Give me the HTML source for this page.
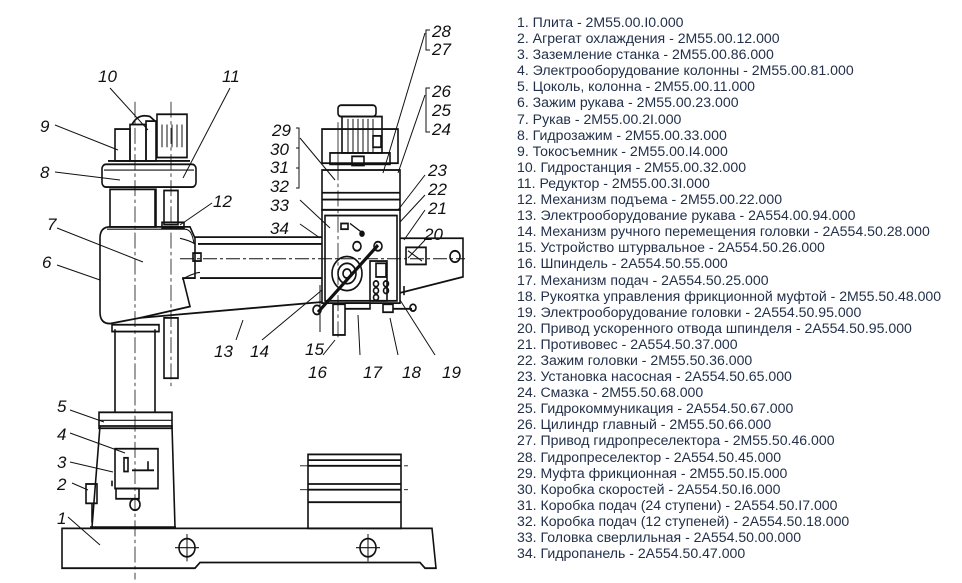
<!DOCTYPE html>
<html><head><meta charset="utf-8"><style>
html,body{margin:0;padding:0;background:#fff;}
body{width:962px;height:583px;position:relative;overflow:hidden;}
#list{position:absolute;left:517px;top:14px;font-family:"Liberation Sans",sans-serif;font-size:14.1px;line-height:16.1px;color:#22304a;white-space:nowrap;}
svg{position:absolute;left:0;top:0;}
svg text{font-family:"Liberation Sans",sans-serif;font-style:italic;font-size:17px;fill:#111;}
</style></head><body>
<svg width="500" height="583" viewBox="0 0 500 583" fill="none" stroke="#111" stroke-width="1.6">
<g transform="matrix(1,0,0,1.1376,0,-12)">
<path d="M62 475 L432 475 L436 510 L425 510 L420 505 L200 505 L195 510 L62 510 Z"/>
<circle cx="187" cy="492" r="8"/><path d="M175 492H199M187 480V504" stroke-width="1"/>
<circle cx="368" cy="492" r="8"/><path d="M356 492H380M368 480V504" stroke-width="1"/>
<path d="M92 474 L100 385 L172 385 L175 474"/>
<path d="M90 474 H176"/>
<rect x="99" y="373" width="73" height="14"/>
<path d="M99 380 H172" stroke-width="1"/>
<rect x="115" y="405" width="43" height="35"/>
<rect x="116" y="440" width="23" height="9"/>
<rect x="124" y="413" width="4" height="12"/><path d="M132 424 H154 M148 416 V424"/>
<circle cx="135" cy="454" r="5"/>
<rect x="86" y="436" width="11" height="17"/>
<path d="M92 453 V470 M112 433 L112 438"/>
<path d="M115 373 V300 M155 373 V300"/>
<rect x="112" y="296" width="47" height="6"/>
<path d="M135 100 V520" stroke-width="0.8" stroke-dasharray="14 3 3 3"/>
<path d="M110 210 L190 210 L195 220 L195 255 L183 255 L190 280 L140 290 L110 295 Q100 295 100 285 L100 220 Q100 210 110 210Z"/>
<path d="M107 212 H185 Q192 212 194 225" stroke-width="1"/>
<rect x="110" y="177" width="46" height="33"/>
<path d="M155 177 V210"/>
<rect x="164" y="178" width="14" height="30"/>
<rect x="162" y="206" width="22" height="5"/>
<rect x="164" y="290" width="14" height="53"/>
<path d="M171 100 V350" stroke-width="0.8" stroke-dasharray="14 3 3 3"/>
<rect x="102" y="155" width="94" height="20" rx="4"/>
<path d="M104 160 H194" stroke-width="1"/>
<rect x="115" y="124" width="15" height="28"/>
<rect x="130" y="120" width="16" height="32"/>
<path d="M132 120 Q138 110 150 113 L155 117"/>
<rect x="146" y="117" width="10" height="35"/>
<rect x="157" y="111" width="30" height="38"/>
<path d="M162 120 V140 M167 120 V140 M172 120 V140 M177 120 V140 M182 120 V140" stroke-width="1"/>
<path d="M108 152 H190"/>
<path d="M195 219 H322 M198 225 H322 M200 255 H322 M140 290 L322 276"/>
<path d="M180 220 Q190 222 195 225 M182 256 Q195 250 200 250" stroke-width="1"/>
<rect x="193" y="233" width="8" height="7"/>
<path d="M180 238 H465" stroke-width="0.8" stroke-dasharray="14 3 3 3"/>
<path d="M400 220 H463 V254 L400 268"/>
<path d="M404 262 V270"/>
<circle cx="455" cy="236" r="5"/>
<rect x="406" y="228" width="20" height="15"/>
<path d="M408 231 L422 240" stroke-width="1"/>
<rect x="322" y="160" width="78" height="35"/>
<path d="M322 180 H400 M322 186 H400"/>
<rect x="322" y="195" width="78" height="82"/>
<rect x="325" y="200" width="72" height="75"/>
<rect x="341" y="207" width="7" height="5"/>
<circle cx="357" cy="227" r="4"/>
<path d="M350 207 L362 215" stroke-width="1.2"/>
<circle cx="362" cy="216" r="2" fill="#111"/>
<circle cx="347" cy="251" r="15"/><circle cx="347" cy="251" r="9"/><circle cx="347" cy="251" r="4"/>
<path d="M318 285 L378 226" stroke-width="3"/>
<circle cx="317" cy="283" r="4"/><circle cx="378" cy="227" r="4"/>
<rect x="370" y="240" width="17" height="35"/>
<rect x="376" y="242" width="10" height="12"/>
<circle cx="376" cy="260" r="2.5"/><circle cx="376" cy="266" r="2.5"/><circle cx="376" cy="272" r="2.5"/>
<circle cx="386" cy="260" r="2.5"/><circle cx="386" cy="266" r="2.5"/>
<rect x="333" y="278" width="12" height="27"/>
<path d="M345 277 H370 V282 H345"/>
<rect x="383" y="278" width="10" height="7"/>
<path d="M393 282 L412 282"/><circle cx="413" cy="281" r="3"/>
<rect x="322" y="124" width="76" height="30"/>
<rect x="330" y="145" width="60" height="10"/>
<rect x="338" y="103" width="38" height="10" rx="3"/>
<rect x="342" y="113" width="40" height="32"/>
<path d="M348 115 V145 M353 115 V145 M358 115 V145 M363 115 V145 M368 115 V145 M373 115 V145" stroke-width="1"/>
<rect x="352" y="148" width="12" height="8"/>
<rect x="373" y="130" width="8" height="10"/>
<path d="M338 118 V160" stroke-width="0.8"/>
<path d="M338 155 V310" stroke-width="0.8" stroke-dasharray="14 3 3 3"/>
<rect x="308" y="410" width="93" height="65"/>
<path d="M308 415 H401 M308 420 H401 M308 436 H401 M308 441 H401 M308 452 H401"/>
<path d="M300 420 H408 M300 441 H408" stroke-width="0.8" stroke-dasharray="10 3"/>
</g>
<g stroke-width="1">
<path d="M110 88 L148 130 M230 88 L183 178 M55 125 L118 150 M55 172 L120 180 M212 203 L180 225"/>
<path d="M57 228 L143 262 M57 265 L100 280 M70 410 L104 422 M70 433 L125 453 M70 462 L113 472 M72 483 L88 490 M68 517 L100 545"/>
<path d="M236 340 L243 320 M262 340 L322 290 M320 332 L320 285 M323 355 L335 340 M360 355 L358 315 M398 355 L390 318 M435 355 L400 300"/>
<path d="M300 138 L335 180 M300 200 L330 228 M300 224 L320 238 M425 175 L398 210 M425 195 L400 222 M425 210 L404 240 M425 240 L408 258"/>
<path d="M425 33 L383 173 M425 95 L398 173"/>
<path d="M430 30 H426 V50 H430 M430 88 H426 V132 H430 M296 128 H299 V188 H296 M299 148 H296 M299 168 H296"/>
</g>
<g stroke="none">
<text x="98" y="82">10</text><text x="222" y="82">11</text><text x="40" y="132">9</text><text x="40" y="178">8</text>
<text x="213" y="207">12</text><text x="47" y="230">7</text><text x="42" y="268">6</text>
<text x="57" y="412">5</text><text x="57" y="440">4</text><text x="57" y="468">3</text><text x="57" y="490">2</text><text x="57" y="524">1</text>
<text x="214" y="357">13</text><text x="250" y="357">14</text><text x="305" y="355">15</text><text x="308" y="378">16</text>
<text x="363" y="378">17</text><text x="402" y="378">18</text><text x="442" y="378">19</text>
<text x="272" y="136">29</text><text x="270" y="155">30</text><text x="270" y="173">31</text><text x="270" y="192">32</text>
<text x="270" y="211">33</text><text x="270" y="234">34</text>
<text x="432" y="37">28</text><text x="432" y="55">27</text><text x="432" y="97">26</text><text x="432" y="116">25</text><text x="432" y="135">24</text>
<text x="428" y="176">23</text><text x="428" y="195">22</text><text x="428" y="214">21</text><text x="424" y="240">20</text>
</g>
</svg>
<div id="list">
1. Плита - 2М55.00.I0.000<br>2. Агрегат охлаждения - 2М55.00.12.000<br>3. Заземление станка - 2М55.00.86.000<br>4. Электрооборудование колонны - 2М55.00.81.000<br>5. Цоколь, колонна - 2М55.00.11.000<br>6. Зажим рукава - 2М55.00.23.000<br>7. Рукав - 2М55.00.2I.000<br>8. Гидрозажим - 2М55.00.33.000<br>9. Токосъемник - 2М55.00.I4.000<br>10. Гидростанция - 2М55.00.32.000<br>11. Редуктор - 2М55.00.3I.000<br>12. Механизм подъема - 2М55.00.22.000<br>13. Электрооборудование рукава - 2А554.00.94.000<br>14. Механизм ручного перемещения головки - 2А554.50.28.000<br>15. Устройство штурвальное - 2А554.50.26.000<br>16. Шпиндель - 2А554.50.55.000<br>17. Механизм подач - 2А554.50.25.000<br>18. Рукоятка управления фрикционной муфтой - 2М55.50.48.000<br>19. Электрооборудование головки - 2А554.50.95.000<br>20. Привод ускоренного отвода шпинделя - 2А554.50.95.000<br>21. Противовес - 2А554.50.37.000<br>22. Зажим головки - 2М55.50.36.000<br>23. Установка насосная - 2А554.50.65.000<br>24. Смазка - 2М55.50.68.000<br>25. Гидрокоммуникация - 2А554.50.67.000<br>26. Цилиндр главный - 2М55.50.66.000<br>27. Привод гидропреселектора - 2М55.50.46.000<br>28. Гидропреселектор - 2А554.50.45.000<br>29. Муфта фрикционная - 2М55.50.I5.000<br>30. Коробка скоростей - 2А554.50.I6.000<br>31. Коробка подач (24 ступени) - 2А554.50.I7.000<br>32. Коробка подач (12 ступеней) - 2А554.50.18.000<br>33. Головка сверлильная - 2А554.50.00.000<br>34. Гидропанель - 2А554.50.47.000
</div>
</body></html>
